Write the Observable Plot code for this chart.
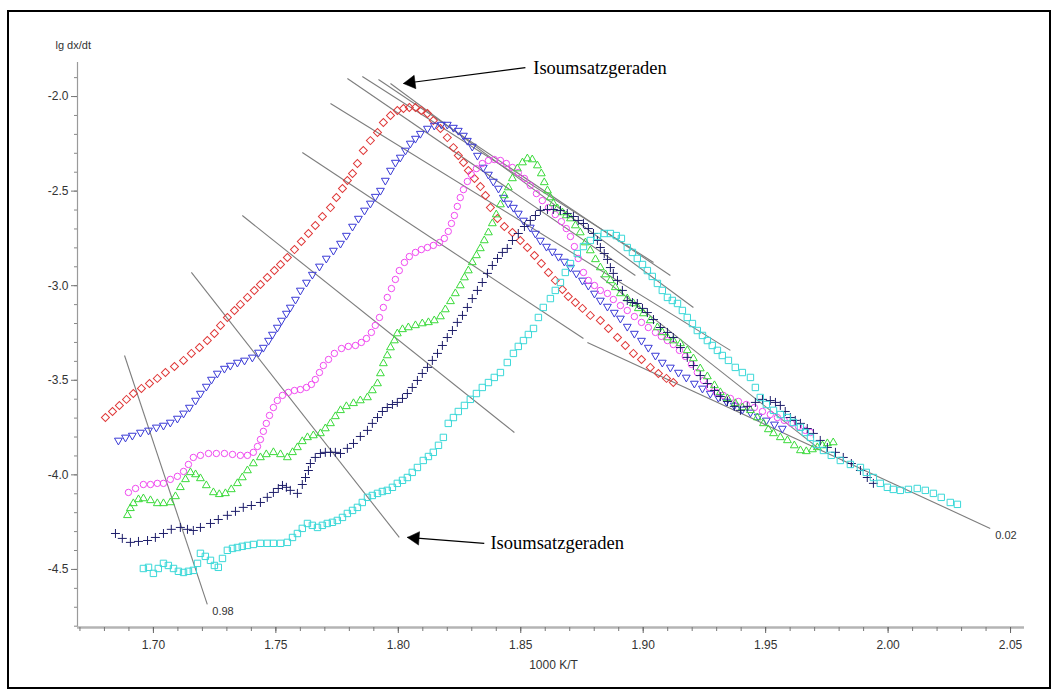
<!DOCTYPE html>
<html><head><meta charset="utf-8">
<script src="https://cdn.jsdelivr.net/npm/d3@7"></script>
<script src="https://cdn.jsdelivr.net/npm/@observablehq/plot@0.6"></script>
<style>
html,body{margin:0;padding:0;background:#fff;}
#wrap{position:relative;width:1058px;height:693px;overflow:hidden;background:#fff;}
#chart{position:absolute;left:0;top:0;}
#border{position:absolute;left:7px;top:10px;width:1040px;height:675px;border:2px solid #000;pointer-events:none;}
</style></head><body>
<div id="wrap"><div id="chart"></div><div id="border"></div></div>
<script>
// ---- axis ticks ----
const xMajorTicks = [1.70, 1.75, 1.80, 1.85, 1.90, 1.95, 2.00, 2.05];
const yMajorTicks = [-4.5, -4.0, -3.5, -3.0, -2.5, -2.0];
const xMinorTicks = d3.range(1.67, 2.056, 0.01);
const yMinorTicks = d3.range(-4.8, -1.81, 0.1);
const xDomain = [1.669, 2.0557];
const yDomain = [-4.807, -1.82];
const xTitle = "1000 K/T";
const yTitle = "lg dx/dt";

// ---- series (x = 1000 K/T, y = lg dx/dt) ----
const redSquares = [[1.6804,-3.697],[1.6833,-3.665],[1.6861,-3.633],[1.6890,-3.601],[1.6918,-3.570],[1.6951,-3.543],[1.6984,-3.517],[1.7016,-3.490],[1.7049,-3.459],[1.7086,-3.427],[1.7123,-3.395],[1.7155,-3.358],[1.7188,-3.327],[1.7220,-3.290],[1.7249,-3.253],[1.7274,-3.210],[1.7302,-3.168],[1.7331,-3.131],[1.7355,-3.099],[1.7384,-3.062],[1.7412,-3.025],[1.7437,-2.994],[1.7465,-2.957],[1.7494,-2.920],[1.7519,-2.888],[1.7547,-2.851],[1.7576,-2.809],[1.7604,-2.766],[1.7633,-2.724],[1.7661,-2.682],[1.7690,-2.634],[1.7723,-2.587],[1.7747,-2.534],[1.7772,-2.486],[1.7792,-2.444],[1.7813,-2.407],[1.7833,-2.354],[1.7857,-2.285],[1.7886,-2.233],[1.7915,-2.190],[1.7939,-2.137],[1.7968,-2.100],[1.7996,-2.074],[1.8021,-2.063],[1.8045,-2.058],[1.8070,-2.058],[1.8094,-2.074],[1.8119,-2.090],[1.8143,-2.127],[1.8172,-2.169],[1.8200,-2.217],[1.8225,-2.270],[1.8245,-2.312],[1.8266,-2.349],[1.8286,-2.391],[1.8311,-2.433],[1.8335,-2.476],[1.8356,-2.523],[1.8376,-2.587],[1.8405,-2.645],[1.8433,-2.687],[1.8466,-2.719],[1.8498,-2.761],[1.8527,-2.798],[1.8556,-2.840],[1.8584,-2.883],[1.8613,-2.930],[1.8641,-2.972],[1.8670,-3.020],[1.8694,-3.057],[1.8723,-3.089],[1.8752,-3.120],[1.8784,-3.157],[1.8825,-3.184],[1.8858,-3.226],[1.8895,-3.274],[1.8927,-3.316],[1.8960,-3.358],[1.8993,-3.390],[1.9029,-3.432],[1.9062,-3.464],[1.9095,-3.490],[1.9123,-3.512]];

const blueTriangles = [[1.6857,-3.818],[1.6886,-3.802],[1.6914,-3.792],[1.6947,-3.776],[1.6980,-3.765],[1.7012,-3.749],[1.7041,-3.739],[1.7069,-3.723],[1.7098,-3.702],[1.7123,-3.675],[1.7147,-3.644],[1.7172,-3.607],[1.7192,-3.570],[1.7216,-3.533],[1.7237,-3.496],[1.7261,-3.464],[1.7290,-3.438],[1.7314,-3.422],[1.7343,-3.406],[1.7372,-3.395],[1.7404,-3.379],[1.7429,-3.353],[1.7449,-3.327],[1.7470,-3.290],[1.7486,-3.258],[1.7506,-3.221],[1.7523,-3.184],[1.7543,-3.147],[1.7559,-3.115],[1.7580,-3.073],[1.7600,-3.025],[1.7625,-2.983],[1.7649,-2.941],[1.7678,-2.898],[1.7706,-2.856],[1.7735,-2.814],[1.7764,-2.777],[1.7788,-2.735],[1.7813,-2.687],[1.7837,-2.645],[1.7862,-2.602],[1.7886,-2.565],[1.7906,-2.529],[1.7927,-2.497],[1.7947,-2.444],[1.7968,-2.391],[1.7988,-2.349],[1.8008,-2.322],[1.8029,-2.285],[1.8049,-2.248],[1.8070,-2.222],[1.8090,-2.196],[1.8119,-2.169],[1.8147,-2.153],[1.8176,-2.148],[1.8200,-2.148],[1.8225,-2.164],[1.8245,-2.180],[1.8266,-2.206],[1.8282,-2.233],[1.8302,-2.264],[1.8323,-2.312],[1.8347,-2.375],[1.8368,-2.412],[1.8388,-2.449],[1.8409,-2.486],[1.8429,-2.534],[1.8449,-2.565],[1.8470,-2.587],[1.8490,-2.618],[1.8511,-2.655],[1.8539,-2.692],[1.8560,-2.724],[1.8580,-2.761],[1.8605,-2.793],[1.8629,-2.819],[1.8654,-2.846],[1.8678,-2.872],[1.8703,-2.904],[1.8727,-2.935],[1.8752,-2.972],[1.8776,-2.999],[1.8801,-3.041],[1.8825,-3.078],[1.8854,-3.110],[1.8882,-3.142],[1.8907,-3.173],[1.8935,-3.216],[1.8964,-3.253],[1.8993,-3.290],[1.9021,-3.327],[1.9050,-3.369],[1.9078,-3.406],[1.9111,-3.432],[1.9144,-3.459],[1.9176,-3.485],[1.9209,-3.517],[1.9242,-3.543],[1.9274,-3.570],[1.9307,-3.591],[1.9340,-3.612],[1.9372,-3.633],[1.9405,-3.654],[1.9438,-3.670],[1.9470,-3.691],[1.9503,-3.712],[1.9536,-3.733],[1.9568,-3.755]];

const magentaCircles = [[1.6898,-4.093],[1.6927,-4.072],[1.6959,-4.051],[1.6988,-4.051],[1.7016,-4.045],[1.7041,-4.045],[1.7069,-4.024],[1.7098,-4.008],[1.7123,-3.982],[1.7143,-3.945],[1.7163,-3.908],[1.7192,-3.897],[1.7225,-3.887],[1.7257,-3.887],[1.7290,-3.887],[1.7323,-3.892],[1.7355,-3.897],[1.7384,-3.897],[1.7408,-3.881],[1.7425,-3.850],[1.7437,-3.813],[1.7449,-3.770],[1.7461,-3.728],[1.7474,-3.686],[1.7490,-3.644],[1.7506,-3.607],[1.7527,-3.580],[1.7551,-3.564],[1.7576,-3.554],[1.7600,-3.549],[1.7625,-3.538],[1.7645,-3.522],[1.7661,-3.496],[1.7678,-3.459],[1.7694,-3.422],[1.7715,-3.390],[1.7739,-3.358],[1.7768,-3.332],[1.7796,-3.321],[1.7825,-3.316],[1.7849,-3.300],[1.7870,-3.279],[1.7890,-3.247],[1.7906,-3.210],[1.7923,-3.168],[1.7939,-3.115],[1.7955,-3.062],[1.7972,-3.015],[1.7988,-2.967],[1.8004,-2.920],[1.8025,-2.877],[1.8045,-2.846],[1.8070,-2.824],[1.8094,-2.809],[1.8119,-2.798],[1.8143,-2.787],[1.8168,-2.772],[1.8188,-2.750],[1.8204,-2.713],[1.8217,-2.671],[1.8229,-2.629],[1.8241,-2.581],[1.8253,-2.534],[1.8266,-2.492],[1.8282,-2.449],[1.8298,-2.412],[1.8319,-2.381],[1.8343,-2.354],[1.8368,-2.338],[1.8392,-2.333],[1.8417,-2.338],[1.8441,-2.354],[1.8466,-2.375],[1.8490,-2.402],[1.8515,-2.433],[1.8539,-2.470],[1.8564,-2.513],[1.8588,-2.550],[1.8613,-2.587],[1.8641,-2.624],[1.8666,-2.661],[1.8686,-2.698],[1.8703,-2.740],[1.8719,-2.793],[1.8735,-2.856],[1.8756,-2.930],[1.8776,-2.972],[1.8801,-2.999],[1.8825,-3.025],[1.8854,-3.041],[1.8878,-3.073],[1.8907,-3.105],[1.8935,-3.131],[1.8964,-3.163],[1.8993,-3.194],[1.9021,-3.221],[1.9050,-3.247],[1.9074,-3.268],[1.9099,-3.290],[1.9123,-3.311],[1.9148,-3.342],[1.9172,-3.374],[1.9197,-3.416],[1.9221,-3.459],[1.9246,-3.501],[1.9270,-3.538],[1.9299,-3.564],[1.9327,-3.580],[1.9356,-3.596],[1.9389,-3.612],[1.9421,-3.628],[1.9454,-3.644],[1.9487,-3.665],[1.9519,-3.681],[1.9548,-3.697],[1.9576,-3.712],[1.9605,-3.728],[1.9634,-3.744],[1.9662,-3.765],[1.9683,-3.776]];

const greenTriangles = [[1.6894,-4.214],[1.6906,-4.177],[1.6918,-4.151],[1.6939,-4.130],[1.6959,-4.125],[1.6988,-4.135],[1.7016,-4.151],[1.7041,-4.151],[1.7069,-4.146],[1.7090,-4.114],[1.7110,-4.066],[1.7131,-4.024],[1.7151,-3.987],[1.7172,-3.998],[1.7192,-4.019],[1.7216,-4.056],[1.7245,-4.093],[1.7269,-4.103],[1.7294,-4.098],[1.7318,-4.077],[1.7343,-4.045],[1.7363,-4.014],[1.7384,-3.977],[1.7408,-3.940],[1.7437,-3.908],[1.7461,-3.892],[1.7490,-3.881],[1.7519,-3.892],[1.7547,-3.908],[1.7568,-3.881],[1.7588,-3.855],[1.7608,-3.823],[1.7629,-3.802],[1.7653,-3.792],[1.7682,-3.781],[1.7702,-3.755],[1.7723,-3.728],[1.7743,-3.691],[1.7764,-3.659],[1.7788,-3.638],[1.7817,-3.622],[1.7845,-3.607],[1.7874,-3.591],[1.7894,-3.554],[1.7915,-3.517],[1.7927,-3.464],[1.7939,-3.411],[1.7955,-3.369],[1.7968,-3.327],[1.7984,-3.290],[1.7996,-3.253],[1.8017,-3.231],[1.8041,-3.221],[1.8070,-3.210],[1.8098,-3.200],[1.8123,-3.194],[1.8147,-3.184],[1.8172,-3.163],[1.8192,-3.126],[1.8213,-3.083],[1.8233,-3.041],[1.8253,-2.999],[1.8270,-2.957],[1.8286,-2.920],[1.8302,-2.877],[1.8319,-2.840],[1.8335,-2.803],[1.8351,-2.761],[1.8368,-2.719],[1.8384,-2.671],[1.8400,-2.624],[1.8417,-2.571],[1.8433,-2.523],[1.8449,-2.481],[1.8466,-2.433],[1.8486,-2.381],[1.8507,-2.349],[1.8527,-2.328],[1.8547,-2.333],[1.8568,-2.365],[1.8584,-2.407],[1.8596,-2.454],[1.8609,-2.497],[1.8621,-2.534],[1.8633,-2.565],[1.8650,-2.592],[1.8670,-2.613],[1.8686,-2.629],[1.8703,-2.645],[1.8723,-2.682],[1.8743,-2.719],[1.8764,-2.772],[1.8784,-2.814],[1.8805,-2.861],[1.8825,-2.904],[1.8846,-2.941],[1.8866,-2.972],[1.8886,-3.009],[1.8907,-3.041],[1.8935,-3.068],[1.8960,-3.094],[1.8980,-3.120],[1.9001,-3.147],[1.9029,-3.184],[1.9058,-3.221],[1.9078,-3.247],[1.9099,-3.274],[1.9123,-3.290],[1.9152,-3.305],[1.9180,-3.342],[1.9205,-3.385],[1.9233,-3.438],[1.9262,-3.480],[1.9291,-3.527],[1.9315,-3.564],[1.9344,-3.596],[1.9376,-3.622],[1.9405,-3.644],[1.9438,-3.659],[1.9466,-3.697],[1.9491,-3.728],[1.9511,-3.760],[1.9532,-3.781],[1.9560,-3.802],[1.9589,-3.818],[1.9617,-3.845],[1.9642,-3.871],[1.9666,-3.876],[1.9691,-3.866],[1.9711,-3.855],[1.9732,-3.845],[1.9752,-3.834],[1.9776,-3.829]];

const navyCrosses = [[1.6845,-4.310],[1.6873,-4.336],[1.6906,-4.357],[1.6939,-4.352],[1.6976,-4.347],[1.7008,-4.331],[1.7041,-4.310],[1.7073,-4.288],[1.7110,-4.278],[1.7139,-4.288],[1.7163,-4.294],[1.7192,-4.278],[1.7233,-4.257],[1.7265,-4.236],[1.7302,-4.214],[1.7335,-4.193],[1.7367,-4.172],[1.7400,-4.162],[1.7437,-4.146],[1.7465,-4.119],[1.7490,-4.093],[1.7510,-4.072],[1.7527,-4.056],[1.7543,-4.066],[1.7559,-4.082],[1.7588,-4.098],[1.7608,-4.051],[1.7621,-4.014],[1.7633,-3.977],[1.7641,-3.940],[1.7661,-3.908],[1.7682,-3.887],[1.7702,-3.881],[1.7723,-3.881],[1.7743,-3.881],[1.7764,-3.887],[1.7792,-3.860],[1.7817,-3.834],[1.7845,-3.797],[1.7874,-3.765],[1.7894,-3.728],[1.7915,-3.697],[1.7935,-3.665],[1.7955,-3.644],[1.7976,-3.628],[1.7996,-3.617],[1.8017,-3.596],[1.8037,-3.570],[1.8057,-3.538],[1.8078,-3.501],[1.8098,-3.464],[1.8119,-3.432],[1.8139,-3.395],[1.8160,-3.358],[1.8180,-3.316],[1.8200,-3.274],[1.8221,-3.237],[1.8241,-3.194],[1.8262,-3.157],[1.8282,-3.115],[1.8302,-3.068],[1.8323,-3.025],[1.8343,-2.983],[1.8364,-2.935],[1.8384,-2.893],[1.8405,-2.856],[1.8425,-2.824],[1.8445,-2.803],[1.8466,-2.761],[1.8490,-2.724],[1.8515,-2.687],[1.8539,-2.655],[1.8560,-2.629],[1.8580,-2.602],[1.8609,-2.597],[1.8633,-2.597],[1.8662,-2.602],[1.8690,-2.618],[1.8715,-2.634],[1.8735,-2.655],[1.8756,-2.671],[1.8776,-2.698],[1.8797,-2.724],[1.8813,-2.761],[1.8825,-2.798],[1.8841,-2.830],[1.8854,-2.861],[1.8866,-2.904],[1.8878,-2.935],[1.8895,-2.972],[1.8915,-3.025],[1.8935,-3.078],[1.8956,-3.089],[1.8976,-3.094],[1.8997,-3.120],[1.9017,-3.142],[1.9042,-3.179],[1.9070,-3.221],[1.9099,-3.247],[1.9123,-3.274],[1.9152,-3.327],[1.9180,-3.379],[1.9205,-3.422],[1.9233,-3.475],[1.9262,-3.517],[1.9291,-3.554],[1.9315,-3.586],[1.9344,-3.612],[1.9372,-3.638],[1.9397,-3.659],[1.9425,-3.638],[1.9458,-3.617],[1.9487,-3.601],[1.9519,-3.607],[1.9540,-3.617],[1.9560,-3.633],[1.9580,-3.665],[1.9601,-3.697],[1.9621,-3.712],[1.9642,-3.728],[1.9670,-3.755],[1.9695,-3.781],[1.9723,-3.818],[1.9752,-3.855],[1.9785,-3.881],[1.9817,-3.908],[1.9850,-3.940],[1.9887,-3.977],[1.9915,-4.014],[1.9940,-4.045]];

const cyanSquares = [[1.6959,-4.495],[1.6980,-4.489],[1.7000,-4.521],[1.7020,-4.495],[1.7041,-4.468],[1.7061,-4.479],[1.7082,-4.495],[1.7102,-4.510],[1.7123,-4.516],[1.7143,-4.510],[1.7163,-4.505],[1.7180,-4.468],[1.7192,-4.415],[1.7212,-4.431],[1.7233,-4.452],[1.7249,-4.479],[1.7265,-4.489],[1.7282,-4.442],[1.7302,-4.399],[1.7323,-4.389],[1.7343,-4.384],[1.7363,-4.378],[1.7384,-4.373],[1.7408,-4.368],[1.7437,-4.362],[1.7465,-4.362],[1.7490,-4.362],[1.7519,-4.362],[1.7547,-4.357],[1.7568,-4.331],[1.7588,-4.310],[1.7608,-4.283],[1.7629,-4.257],[1.7649,-4.267],[1.7670,-4.278],[1.7690,-4.267],[1.7710,-4.257],[1.7731,-4.251],[1.7751,-4.241],[1.7772,-4.225],[1.7792,-4.204],[1.7813,-4.188],[1.7833,-4.172],[1.7853,-4.146],[1.7874,-4.119],[1.7894,-4.109],[1.7915,-4.098],[1.7935,-4.088],[1.7955,-4.082],[1.7976,-4.066],[1.7996,-4.045],[1.8017,-4.029],[1.8037,-4.014],[1.8057,-3.987],[1.8078,-3.961],[1.8102,-3.924],[1.8123,-3.903],[1.8143,-3.881],[1.8164,-3.844],[1.8184,-3.802],[1.8204,-3.728],[1.8225,-3.697],[1.8245,-3.665],[1.8270,-3.633],[1.8294,-3.601],[1.8319,-3.570],[1.8343,-3.538],[1.8368,-3.512],[1.8392,-3.485],[1.8417,-3.459],[1.8445,-3.406],[1.8470,-3.358],[1.8490,-3.321],[1.8511,-3.290],[1.8531,-3.258],[1.8552,-3.226],[1.8572,-3.168],[1.8592,-3.115],[1.8621,-3.068],[1.8641,-3.025],[1.8662,-2.983],[1.8682,-2.930],[1.8703,-2.883],[1.8731,-2.830],[1.8756,-2.793],[1.8784,-2.761],[1.8813,-2.740],[1.8841,-2.724],[1.8866,-2.724],[1.8890,-2.735],[1.8911,-2.750],[1.8935,-2.798],[1.8956,-2.824],[1.8976,-2.856],[1.8997,-2.888],[1.9017,-2.920],[1.9037,-2.951],[1.9058,-2.988],[1.9078,-3.025],[1.9099,-3.062],[1.9119,-3.078],[1.9140,-3.094],[1.9160,-3.131],[1.9180,-3.168],[1.9201,-3.200],[1.9221,-3.237],[1.9242,-3.263],[1.9262,-3.290],[1.9282,-3.316],[1.9303,-3.342],[1.9323,-3.369],[1.9348,-3.395],[1.9376,-3.432],[1.9405,-3.459],[1.9438,-3.485],[1.9458,-3.538],[1.9478,-3.591],[1.9503,-3.628],[1.9532,-3.659],[1.9560,-3.681],[1.9589,-3.697],[1.9613,-3.723],[1.9642,-3.749],[1.9662,-3.776],[1.9683,-3.802],[1.9707,-3.839],[1.9736,-3.871],[1.9768,-3.897],[1.9805,-3.924],[1.9846,-3.945],[1.9887,-3.961],[1.9911,-3.987],[1.9940,-4.014],[1.9968,-4.045],[1.9997,-4.066],[2.0021,-4.077],[2.0050,-4.082],[2.0083,-4.077],[2.0119,-4.072],[2.0152,-4.082],[2.0185,-4.098],[2.0217,-4.119],[2.0254,-4.146],[2.0283,-4.156]];

// ---- isoconversion lines (Isoumsatzgeraden) ----
const isoX1 = [1.6882, 1.7155, 1.7363, 1.7608, 1.7723, 1.7792, 1.7853, 1.7919, 1.7968, 1.8825, 1.8772];
const isoY1 = [-3.369, -2.930, -2.629, -2.296, -2.037, -1.905, -1.894, -1.910, -1.931, -2.951, -3.300];
const isoX2 = [1.7220, 1.8004, 1.8474, 1.8756, 1.9356, 1.8968, 1.9042, 1.9111, 1.9205, 1.9711, 2.0417];
const isoY2 = [-4.685, -4.331, -3.776, -3.279, -3.342, -2.946, -2.877, -2.946, -3.115, -3.855, -4.283];
const isoLabels = ["0.98", "", "", "", "", "", "", "", "", "", "0.02"];

// ---- annotations ----
const annotText = ["Isoumsatzgeraden", "Isoumsatzgeraden"];
const annotTextX = [1.8551, 1.8376];
const annotTextY = [-1.852, -4.362];
const annotTailX = [1.8519, 1.8351];
const annotTailY = [-1.847, -4.362];
const annotTipX = [1.8021, 1.8037];
const annotTipY = [-1.931, -4.331];

const isoLines = isoX1.map((_, i) => ({x1: isoX1[i], y1: isoY1[i], x2: isoX2[i], y2: isoY2[i], label: isoLabels[i]}));
const annots = annotText.map((t, i) => ({text: t, tx: annotTextX[i], ty: annotTextY[i], x1: annotTailX[i], y1: annotTailY[i], x2: annotTipX[i], y2: annotTipY[i]}));

const px = d => d[0], py = d => d[1];
const fmt1 = d => d.toFixed(1);
const fmt2 = d => d.toFixed(2);

const chart = Plot.plot({
  width: 1058, height: 693,
  marginLeft: 77, marginRight: 34, marginTop: 62, marginBottom: 66,
  x: {domain: xDomain},
  y: {domain: yDomain},
  style: {fontFamily: "'Liberation Sans', Arial, sans-serif", fontSize: "12px", color: "#333", background: "transparent"},
  marks: [
    Plot.ruleX([xDomain[0]], {stroke: "#9a9a9a", strokeWidth: 1.2}),
    Plot.ruleY([yDomain[0]], {stroke: "#b4b4b4", strokeWidth: 2.5}),
    Plot.axisX(xMinorTicks, {tickSize: 4, tickFormat: () => "", stroke: "#777", label: null}),
    Plot.axisX(xMajorTicks, {tickSize: 6, tickPadding: 7, tickFormat: fmt2, stroke: "#666", label: null}),
    Plot.axisY(yMinorTicks, {tickSize: 3, tickFormat: () => "", stroke: "#888", label: null}),
    Plot.axisY(yMajorTicks, {tickSize: 6, tickPadding: 3, tickFormat: fmt1, stroke: "#777", label: null}),
    Plot.text([yTitle], {frameAnchor: "top-left", dx: -22, dy: -17, textAnchor: "start", lineAnchor: "middle", fontSize: 11, fill: "#333"}),
    Plot.text([xTitle], {frameAnchor: "bottom", dx: 2.5, dy: 38, lineAnchor: "middle", fontSize: 12, fill: "#333"}),
    // isoconversion lines
    Plot.link(isoLines, {x1: "x1", y1: "y1", x2: "x2", y2: "y2", stroke: "#7d7d7d", strokeWidth: 1.1}),
    Plot.text(isoLines, {x: "x2", y: "y2", text: "label", textAnchor: "start", lineAnchor: "middle", dx: 5, dy: 7, fontSize: 11, fill: "#333"}),
    // series
    Plot.dot(redSquares, {x: px, y: py, symbol: "square", r: 3.2, rotate: 45, stroke: "#e03a3a", strokeWidth: 1, fill: "none"}),
    Plot.dot(blueTriangles, {x: px, y: py, symbol: "triangle", r: 2.9, rotate: 180, stroke: "#3a3ad6", strokeWidth: 1, fill: "none"}),
    Plot.dot(magentaCircles, {x: px, y: py, symbol: "circle", r: 3.2, stroke: "#f048f0", strokeWidth: 1, fill: "none"}),
    Plot.dot(greenTriangles, {x: px, y: py, symbol: "triangle", r: 2.9, stroke: "#3ada3a", strokeWidth: 1, fill: "none"}),
    Plot.dot(navyCrosses, {x: px, y: py, symbol: "plus", r: 3.0, stroke: "#1e1e6a", strokeWidth: 1}),
    Plot.dot(cyanSquares, {x: px, y: py, symbol: "square", r: 3.6, stroke: "#3ad8d8", strokeWidth: 1, fill: "none"}),
    // annotations
    Plot.link(annots, {x1: "x1", y1: "y1", x2: "x2", y2: "y2", stroke: "#000", strokeWidth: 1.2}),
    Plot.dot(annots.slice(0, 1), {x: "x2", y: "y2", symbol: "triangle", r: 5, rotate: 262.5, dx: 7.7, dy: -1, fill: "#000", stroke: "#000", strokeWidth: 0.5}),
    Plot.dot(annots.slice(1, 2), {x: "x2", y: "y2", symbol: "triangle", r: 5, rotate: 274.5, dx: 7.8, dy: 0.6, fill: "#000", stroke: "#000", strokeWidth: 0.5}),
    Plot.text(annots, {x: "tx", y: "ty", text: "text", textAnchor: "start", lineAnchor: "middle", fontFamily: "'Liberation Serif', 'Times New Roman', serif", fontSize: 18.5, fill: "#000"})
  ]
});
document.getElementById("chart").appendChild(chart);
</script>
</body></html>
